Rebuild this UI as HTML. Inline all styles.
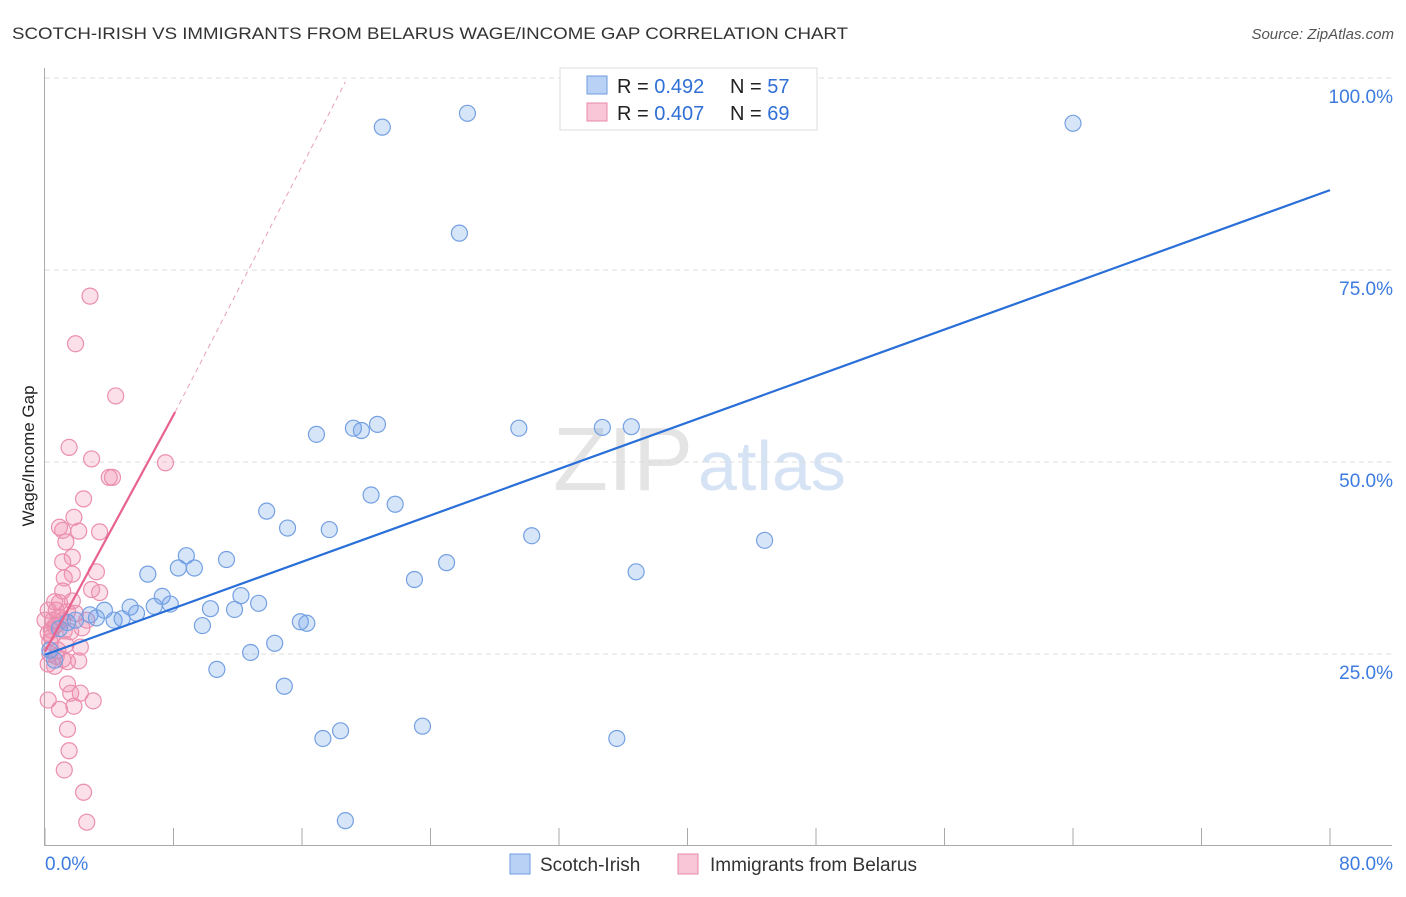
<!DOCTYPE html>
<html><head><meta charset="utf-8"><style>
body{margin:0;background:#fff;font-family:"Liberation Sans",sans-serif;}
svg text{font-family:"Liberation Sans",sans-serif;}
</style></head><body>
<svg id="chart" width="1406" height="892" viewBox="0 0 1406 892" xmlns="http://www.w3.org/2000/svg">
<text x="12" y="39" font-size="17" fill="#333" textLength="836" lengthAdjust="spacingAndGlyphs">SCOTCH-IRISH VS IMMIGRANTS FROM BELARUS WAGE/INCOME GAP CORRELATION CHART</text>
<text x="1394" y="39" font-size="15" fill="#555" text-anchor="end" font-style="italic">Source: ZipAtlas.com</text>
<text x="553" y="490" font-size="90" fill="#e4e4e4" font-family="Liberation Serif">ZIP<tspan fill="#d6e3f5" font-family="Liberation Sans" font-size="70" dx="5">atlas</tspan></text>
<g id="grid"></g><g id="axes"></g><g id="pts"></g><g id="lines"></g>
<text transform="translate(34,456) rotate(-90)" font-size="17" fill="#222" text-anchor="middle">Wage/Income Gap</text>
<g>
<rect x="560" y="68" width="257" height="62" fill="#fff" stroke="#ddd"/>
<rect x="587" y="76" width="20" height="18" fill="#b8d1f5" stroke="#6f9be0"/>
<text x="617" y="93" font-size="20" fill="#222">R = <tspan fill="#2f6fd6">0.492</tspan></text>
<text x="730" y="93" font-size="20" fill="#222">N = <tspan fill="#2f6fd6">57</tspan></text>
<rect x="587" y="103" width="20" height="18" fill="#f8c6d6" stroke="#e88aa8"/>
<text x="617" y="120" font-size="20" fill="#222">R = <tspan fill="#2f6fd6">0.407</tspan></text>
<text x="730" y="120" font-size="20" fill="#222">N = <tspan fill="#2f6fd6">69</tspan></text>
</g>
<g>
<rect x="510" y="854" width="20" height="20" fill="#b8d1f5" stroke="#6f9be0"/>
<text x="540" y="871" font-size="19" fill="#333">Scotch-Irish</text>
<rect x="678" y="854" width="20" height="20" fill="#f8c6d6" stroke="#e88aa8"/>
<text x="710" y="871" font-size="19" fill="#333">Immigrants from Belarus</text>
</g>
</svg>
<script>
const yTicks=[25,50,75,100];
const yTickLabels=["25.0%","50.0%","75.0%","100.0%"];
const xTicks=[0,8,16,24,32,40,48,56,64,72,80];
const blueX=[21.0,26.3,64.0,25.8,16.9,19.2,19.7,20.7,29.5,34.7,36.5,20.3,21.8,13.8,15.1,17.7,30.3,44.8,25.0,23.0,36.8,6.4,8.3,8.8,9.3,11.3,12.2,13.3,10.3,11.8,7.3,7.8,6.8,5.3,5.7,3.7,4.3,4.8,2.8,3.2,1.9,1.4,0.9,9.8,15.9,16.3,14.3,12.8,10.7,14.9,23.5,18.4,17.3,35.6,18.7,0.6,0.3];
const blueY=[93.6,95.4,94.1,79.8,53.6,54.4,54.1,54.9,54.4,54.5,54.6,45.7,44.5,43.6,41.4,41.2,40.4,39.8,36.9,34.7,35.7,35.4,36.2,37.8,36.2,37.3,32.6,31.6,30.9,30.8,32.5,31.5,31.2,31.1,30.3,30.7,29.4,29.6,30.1,29.7,29.4,29.1,28.3,28.7,29.2,29.0,26.4,25.2,23.0,20.8,15.6,15.0,14.0,14.0,3.3,24.2,25.5];
const pinkX=[2.8,1.9,4.4,1.5,2.9,7.5,4.0,4.2,2.4,0.9,1.1,1.8,2.1,3.4,1.3,1.7,1.1,1.2,1.7,3.2,1.1,3.4,2.9,0.6,0.7,1.7,0.5,0.9,1.4,0.7,0.4,1.2,1.6,2.3,1.9,2.6,0.2,0.4,1.3,0.8,2.2,0.3,0.7,1.1,0.2,0.6,2.1,1.4,0.2,3.0,1.4,1.6,2.2,0.9,1.8,1.4,1.5,1.2,2.4,2.6,0.3,0.6,0.9,0.0,0.2,1.1];
const pinkY=[71.6,65.4,58.6,51.9,50.4,49.9,48.0,48.0,45.2,41.5,41.1,42.8,41.0,40.9,39.6,37.6,37.0,34.9,35.4,35.7,33.2,33.0,33.4,31.8,30.7,31.9,29.4,29.8,30.5,28.8,28.1,28.0,27.9,28.4,30.3,29.4,27.7,27.2,26.2,25.5,25.9,25.0,24.7,24.3,23.7,23.4,24.1,24.0,19.0,18.9,21.1,19.9,19.9,17.8,18.2,15.2,12.4,9.9,7.0,3.1,26.6,28.6,31.7,29.4,30.7,29.4];
const blueLine={x0:0,y0:24.9,x1:80,y1:85.4};
const pinkSolid={x0:0,y0:25.3,x1:8.1,y1:56.5};
const pinkDashEnd={x1:18.7,y1:99.5};
const X=v=>45+v*(1285/80), Y=v=>846-v*7.68;
const NS="http://www.w3.org/2000/svg";
function mk(t,a,p){const e=document.createElementNS(NS,t);for(const k in a)e.setAttribute(k,a[k]);document.getElementById(p).appendChild(e);return e;}
yTicks.forEach((t,i)=>{
 const g=mk('line',{x1:45,x2:1392,y1:Y(t),y2:Y(t),stroke:'#ddd','stroke-dasharray':'5,4'},'grid');
 
 
 const l=mk('text',{x:1393,y:Y(t)+25,'font-size':19,fill:'#3d7be0','text-anchor':'end'},'grid');l.textContent=yTickLabels[i];
 
 
});
const ax=mk('line',{x1:44.5,x2:44.5,y1:68,y2:846,stroke:'#aaa'},'axes');


const xa=mk('line',{x1:45,x2:1392,y1:845.5,y2:845.5,stroke:'#aaa'},'axes');


xTicks.forEach(t=>{const k=mk('line',{x1:X(t),x2:X(t),y1:828,y2:846,stroke:'#aaa'},'axes');
 
 });
const xl0=mk('text',{x:45,y:870,'font-size':19,fill:'#3d7be0'},'axes');xl0.textContent='0.0%';


const xl1=mk('text',{x:1393,y:870,'font-size':19,fill:'#3d7be0','text-anchor':'end'},'axes');xl1.textContent='80.0%';


pinkX.forEach((x,i)=>{const c=mk('circle',{cx:X(x),cy:Y(pinkY[i]),r:8,fill:'rgba(240,140,175,0.28)',stroke:'#eb8fae','stroke-width':1.2},'pts');
 
 });
blueX.forEach((x,i)=>{const c=mk('circle',{cx:X(x),cy:Y(blueY[i]),r:8,fill:'rgba(110,160,235,0.28)',stroke:'#74a0e2','stroke-width':1.2},'pts');
 
 });
const bl=mk('line',{x1:X(blueLine.x0),y1:Y(blueLine.y0),x2:X(blueLine.x1),y2:Y(blueLine.y1),stroke:'#2a6fd8','stroke-width':2.2},'lines');


const pl=mk('line',{x1:X(pinkSolid.x0),y1:Y(pinkSolid.y0),x2:X(pinkSolid.x1),y2:Y(pinkSolid.y1),stroke:'#e8628e','stroke-width':2.2},'lines');


const pd=mk('line',{x1:X(pinkSolid.x1),y1:Y(pinkSolid.y1),x2:X(pinkDashEnd.x1),y2:Y(pinkDashEnd.y1),stroke:'#eaa0b8','stroke-width':1,'stroke-dasharray':'5,4'},'lines');


</script>
</body></html>
